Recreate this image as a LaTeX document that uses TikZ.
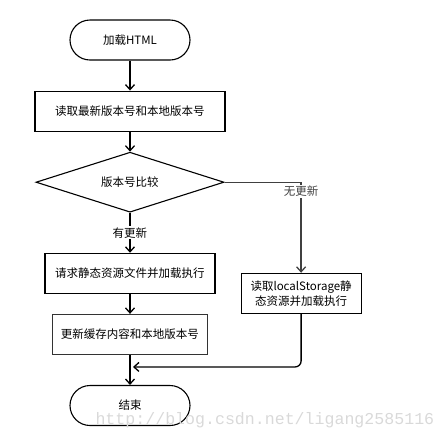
\documentclass[tikz,border=0pt]{standalone}
\usepackage{fontspec}
\usepackage{tikz}
\usetikzlibrary{shapes.geometric, arrows.meta, positioning, calc}
\usepackage{xcolor}
\newfontfamily\cjk{Noto Sans CJK SC}
\newfontfamily\wmfont{Liberation Mono}
\definecolor{edgegray}{HTML}{404040}

\begin{document}
\begin{tikzpicture}[node distance=30pt,
    font=\cjk\fontsize{11.5}{15}\selectfont,
    term/.style={draw, line width=1.1pt, rounded corners=20pt, minimum width=120pt, minimum height=40pt, inner sep=0pt},
    proc/.style={draw, line width=1.1pt, rectangle, minimum height=40pt, inner sep=2pt},
    flow/.style={-{Straight Barb[length=5pt, width=9pt]}, line width=1.3pt},
    tag/.style={fill=white, inner sep=1pt, anchor=center}]
    \useasboundingbox (-130pt,40pt) rectangle (314pt,-400pt);

    \node[term] (start) at (0,0) {加载HTML};
    \node[proc, minimum width=190pt, below=30pt of start] (read) {读取最新版本号和本地版本号};
    \node[draw, line width=1.1pt, diamond, aspect=3.1, minimum width=188pt, minimum height=60pt, inner sep=0pt, below=20pt of read] (cmp) {版本号比较};
    \node[proc, minimum width=170pt, below=40pt of cmp] (req) {请求静态资源文件并加载执行};
    \node[proc, draw=black!80, minimum width=155pt, below=20pt of req] (upd) {更新缓存内容和本地版本号};
    \node[term, below=30pt of upd] (end) {结束};
    \node[proc, minimum width=120pt, align=center, right=25pt of req, yshift=-20pt] (local) {读取localStorage静\\态资源并加载执行};
    \coordinate (join) at ($(upd.south)!0.4!(end.north)$);

    \draw[flow] (start) -- (read);
    \draw[flow] (read) -- (cmp);
    \draw[flow] (cmp) -- node[tag, pos=0.5] {有更新} (req);
    \draw[flow, edgegray] (cmp.east) -| node[tag, pos=0.5, yshift=-9pt] {无更新} (local.north);
    \draw[flow] (req) -- (upd);
    \draw[flow] (upd) -- (end);
    \draw[flow, rounded corners=6pt] (local.south) |- ([xshift=3pt]join);

    \node[text=black!15, font=\wmfont\fontsize{16.6}{18}\selectfont, anchor=west] (mark) at (-38pt,-380pt) {http://blog.csdn.net/ligang2585116};
\end{tikzpicture}
\end{document}
